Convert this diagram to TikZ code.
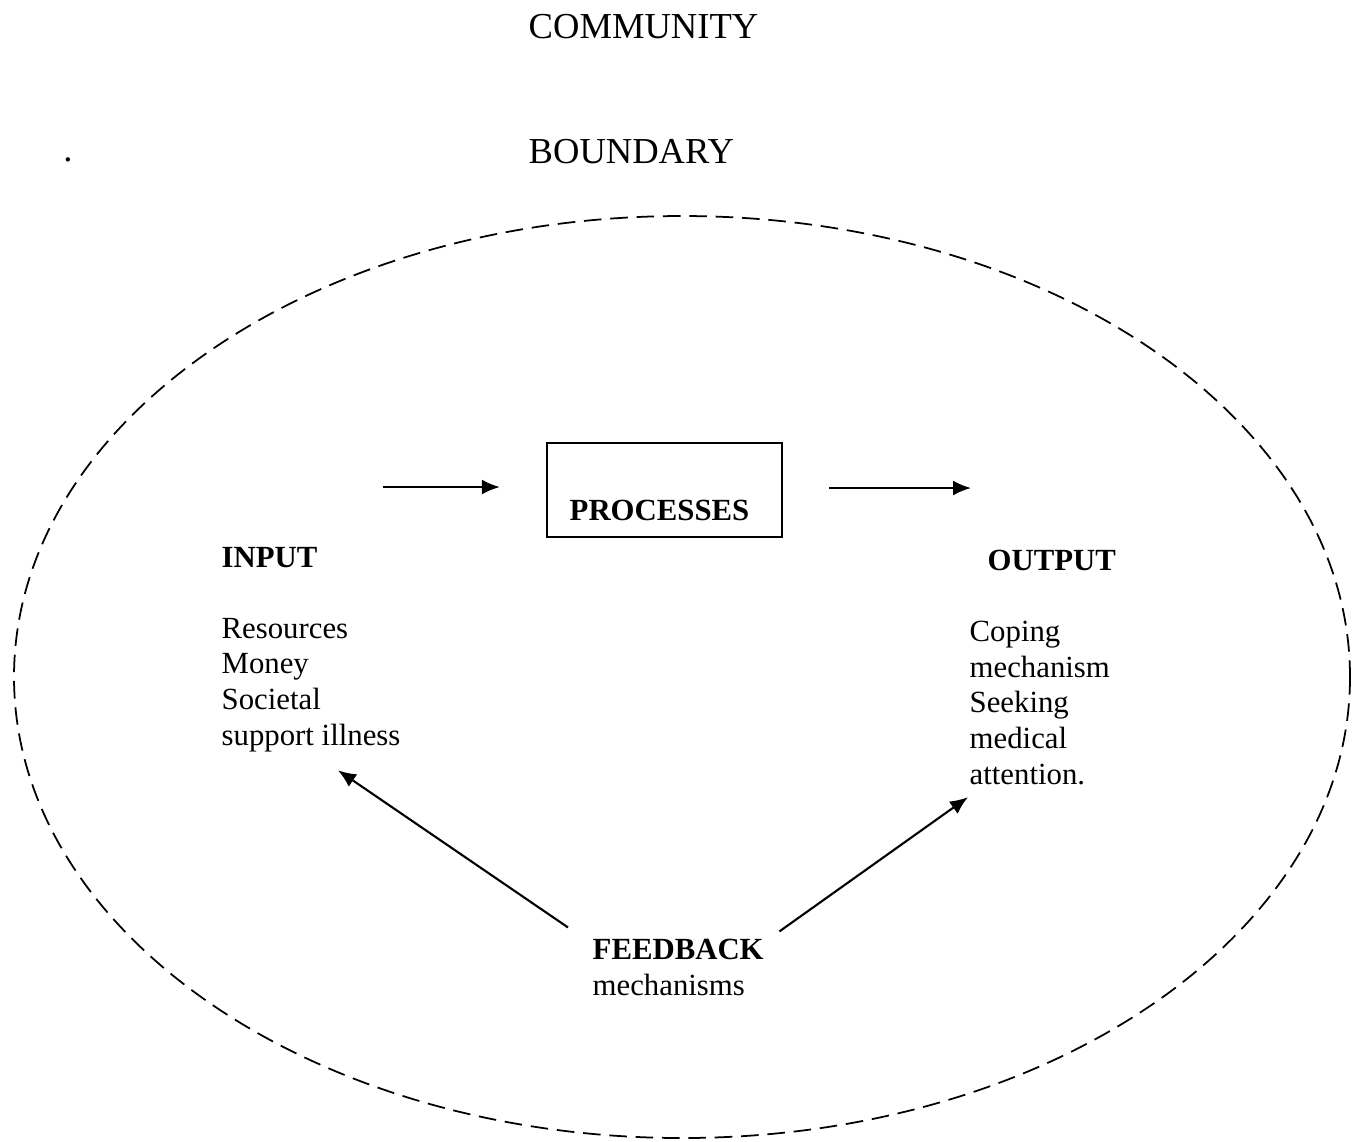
\documentclass[tikz,border=0pt]{standalone}
\usepackage{fontspec}
\setmainfont{Liberation Serif}
\usetikzlibrary{arrows.meta}

\tikzset{
  txt/.style={inner sep=0pt, align=left, font=\fontsize{8.75}{10.1}\selectfont},
  big/.style={inner sep=0pt, font=\fontsize{10.4}{12}\selectfont},
  flow/.style={-{Latex[length=1.8mm,width=1.5mm]}, line width=0.6pt}
}

\begin{document}
\begin{tikzpicture}[x=0.01cm,y=-0.01cm]
 \useasboundingbox (0,0) rectangle (1361,1141);

 % community boundary
 \draw[line width=0.5pt, dash pattern=on 5pt off 2.5pt] (682,677) ellipse [x radius=668, y radius=461];

 \node[big, anchor=base west] (comm) at (528,38) {COMMUNITY};
 \node[big, anchor=base west] (bound) at (528,163) {BOUNDARY};
 \node[big, anchor=base] (dot) at (68,161) {.};

 \node[draw, line width=0.6pt, minimum width=2.35cm, inner ysep=0pt, text height=0.77cm, text depth=0.17cm,
   font=\fontsize{8.75}{10.1}\selectfont\bfseries] (proc) at (664.5,490) {PROCESSES\hspace*{1mm}};

 % multi-line nodes sit on the baseline of their last line
 \node[txt, anchor=base west] (inhead) at (221,567) {\textbf{INPUT}};
 \node[txt, anchor=base west] (inlist) at (221,745) {Resources\\
   Money\\
   Societal\\
   support illness};

 \node[txt, anchor=base west] (outhead) at (987,570) {\textbf{OUTPUT}};
 \node[txt, anchor=base west] (outlist) at (969,784) {Coping\\
   mechanism\\
   Seeking\\
   medical\\
   attention.};

 \node[txt, anchor=base west] (fb) at (592,995) {\textbf{FEEDBACK}\\
   mechanisms};

 \coordinate (inarrow) at (383,487);
 \coordinate (outarrow) at (971,488);

 \draw[flow, shorten >=4.6mm] (inarrow) -- (inarrow -| proc.west);
 \draw[flow, shorten <=4.6mm] (outarrow -| proc.east) -- (outarrow);

 \draw[flow] ([xshift=-2.4mm, yshift=1.1mm]fb.north west) -- ([xshift=-6.3mm, yshift=-1.8mm]inlist.south east);
 \draw[flow] ([xshift=1.5mm, yshift=0.7mm]fb.north east) -- ([xshift=-0.1mm, yshift=-1.2mm]outlist.south west);

\end{tikzpicture}
\end{document}
